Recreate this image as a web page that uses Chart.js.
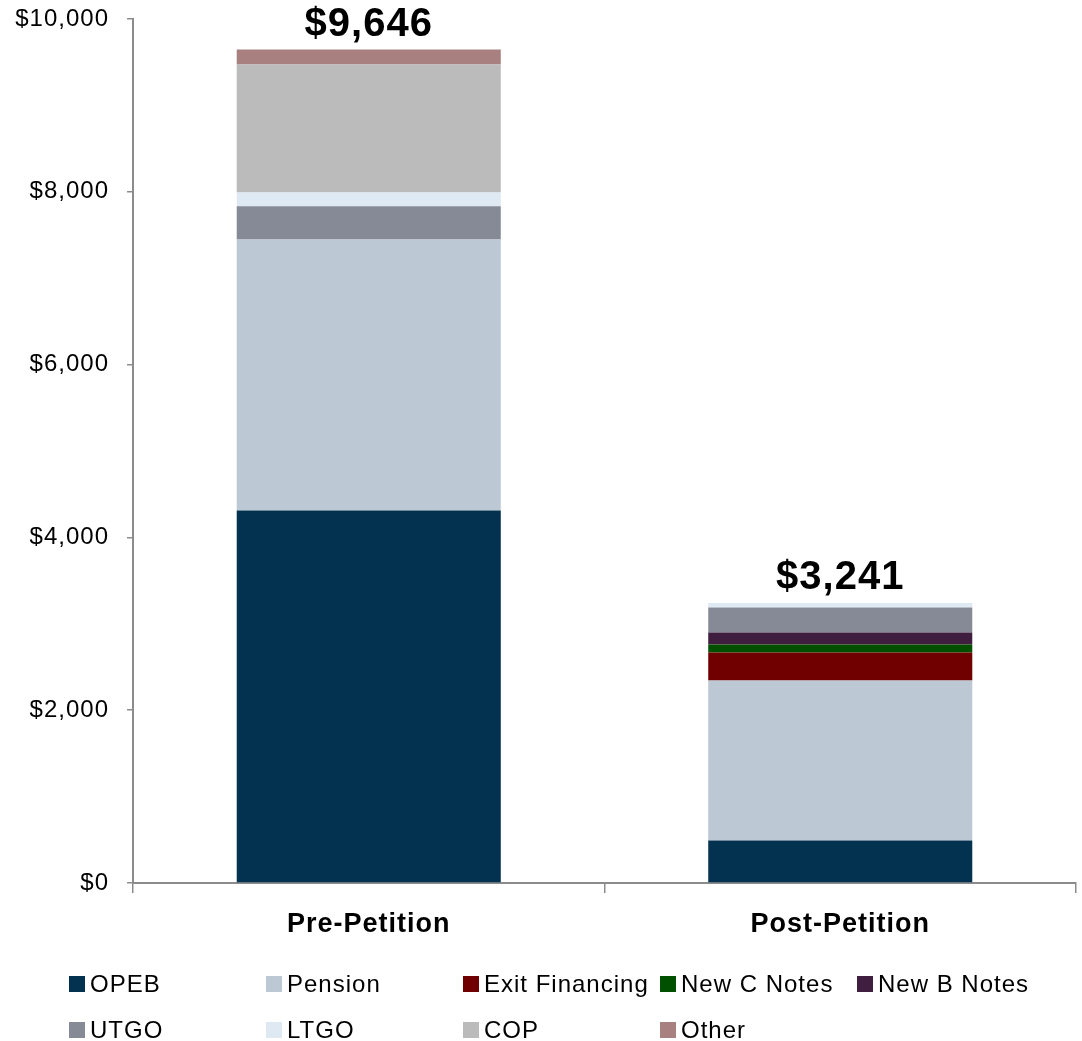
<!DOCTYPE html>
<html>
<head>
<meta charset="utf-8">
<script src="https://cdn.jsdelivr.net/npm/chart.js@4/dist/chart.umd.min.js"></script>
<style>
  html, body { margin: 0; padding: 0; background: #fff; }
  #wrap { width: 1082px; height: 1041px; }
</style>
</head>
<body>
<div id="wrap"><canvas id="debtChart"></canvas></div>
<script>
var categories = ["Pre-Petition", "Post-Petition"];
var seriesNames = ["OPEB", "Pension", "Exit Financing", "New C Notes", "New B Notes", "UTGO", "LTGO", "COP", "Other"];
var opeb = [4311, 492];
var pension = [3137, 1852];
var exitFinancing = [0, 324];
var newCNotes = [0, 92];
var newBNotes = [0, 139];
var utgo = [385, 290];
var ltgo = [159, 52];
var cop = [1481, 0];
var other = [173, 0];
var yTicks = [0, 2000, 4000, 6000, 8000, 10000];

var colors = ["#02324F", "#BCC8D4", "#700000", "#005000", "#3F1E40", "#858A96", "#DEE9F3", "#BBBBBB", "#A88080"];
var values = [opeb, pension, exitFinancing, newCNotes, newBNotes, utgo, ltgo, cop, other];

var datasets = seriesNames.map(function (name, i) {
    return {
        label: name,
        data: values[i],
        backgroundColor: colors[i],
        borderWidth: 0,
        categoryPercentage: 1,
        barPercentage: 0.56
    };
});

var spacing = {
    id: "spacing",
    beforeUpdate: function (chart) { chart.ctx.letterSpacing = "1px"; },
    beforeDraw: function (chart) { chart.ctx.letterSpacing = "1px"; }
};

var totals = {
    id: "totals",
    afterDatasetsDraw: function (chart) {
        var ctx = chart.ctx;
        var yScale = chart.scales.y;
        var meta = chart.getDatasetMeta(0);
        ctx.save();
        ctx.letterSpacing = "1px";
        ctx.font = "bold 40px 'Liberation Sans', Arial, sans-serif";
        ctx.fillStyle = "#000";
        ctx.textAlign = "center";
        ctx.textBaseline = "alphabetic";
        categories.forEach(function (c, j) {
            var sum = 0;
            values.forEach(function (v) { sum += v[j]; });
            var x = meta.data[j].x;
            var y = yScale.getPixelForValue(sum);
            ctx.fillText("$" + sum.toLocaleString("en-US"), x, y - 14);
        });
        ctx.restore();
    }
};

var gridLegend = {
    id: "gridLegend",
    afterDraw: function (chart) {
        var ctx = chart.ctx;
        ctx.save();
        ctx.letterSpacing = "1px";
        ctx.font = "24px 'Liberation Sans', Arial, sans-serif";
        ctx.textBaseline = "middle";
        ctx.textAlign = "left";
        chart.data.datasets.forEach(function (ds, i) {
            var col = i % 5, row = Math.floor(i / 5);
            var x = 69 + col * 197;
            var y = 984 + row * 46;
            ctx.fillStyle = ds.backgroundColor;
            ctx.fillRect(x, y - 8, 16, 16);
            ctx.fillStyle = "#000";
            ctx.fillText(ds.label, x + 21, y + 1);
        });
        ctx.restore();
    }
};

new Chart(document.getElementById("debtChart"), {
    type: "bar",
    data: { labels: categories, datasets: datasets },
    options: {
        responsive: true,
        maintainAspectRatio: false,
        animation: false,
        layout: { padding: { top: 19, right: 6, bottom: 98, left: 0 } },
        plugins: {
            legend: { display: false },
            tooltip: { enabled: false }
        },
        scales: {
            x: {
                stacked: true,
                afterFit: function (s) { s.height = 60; s.paddingLeft = 0; s.paddingRight = 0; },
                border: { display: true, color: "#8C8C8C", width: 2 },
                grid: { display: true, offset: true, drawOnChartArea: false, color: "#8C8C8C", lineWidth: 1.5, tickLength: 10 },
                ticks: {
                    color: "#000",
                    padding: 15,
                    font: { family: "'Liberation Sans', Arial, sans-serif", size: 27, weight: "bold" }
                }
            },
            y: {
                stacked: true,
                min: 0,
                max: 10000,
                afterFit: function (s) { s.width = 133; s.paddingTop = 0; s.paddingBottom = 0; },
                afterBuildTicks: function (s) { s.ticks = yTicks.map(function (v) { return { value: v }; }); },
                border: { display: true, color: "#8C8C8C", width: 2 },
                grid: { display: true, drawOnChartArea: false, color: "#8C8C8C", lineWidth: 1.5, tickLength: 6 },
                ticks: {
                    color: "#000",
                    padding: 18,
                    font: { family: "'Liberation Sans', Arial, sans-serif", size: 24 },
                    callback: function (v) { return "$" + Number(v).toLocaleString("en-US"); }
                }
            }
        }
    },
    plugins: [spacing, totals, gridLegend]
});
</script>
</body>
</html>
